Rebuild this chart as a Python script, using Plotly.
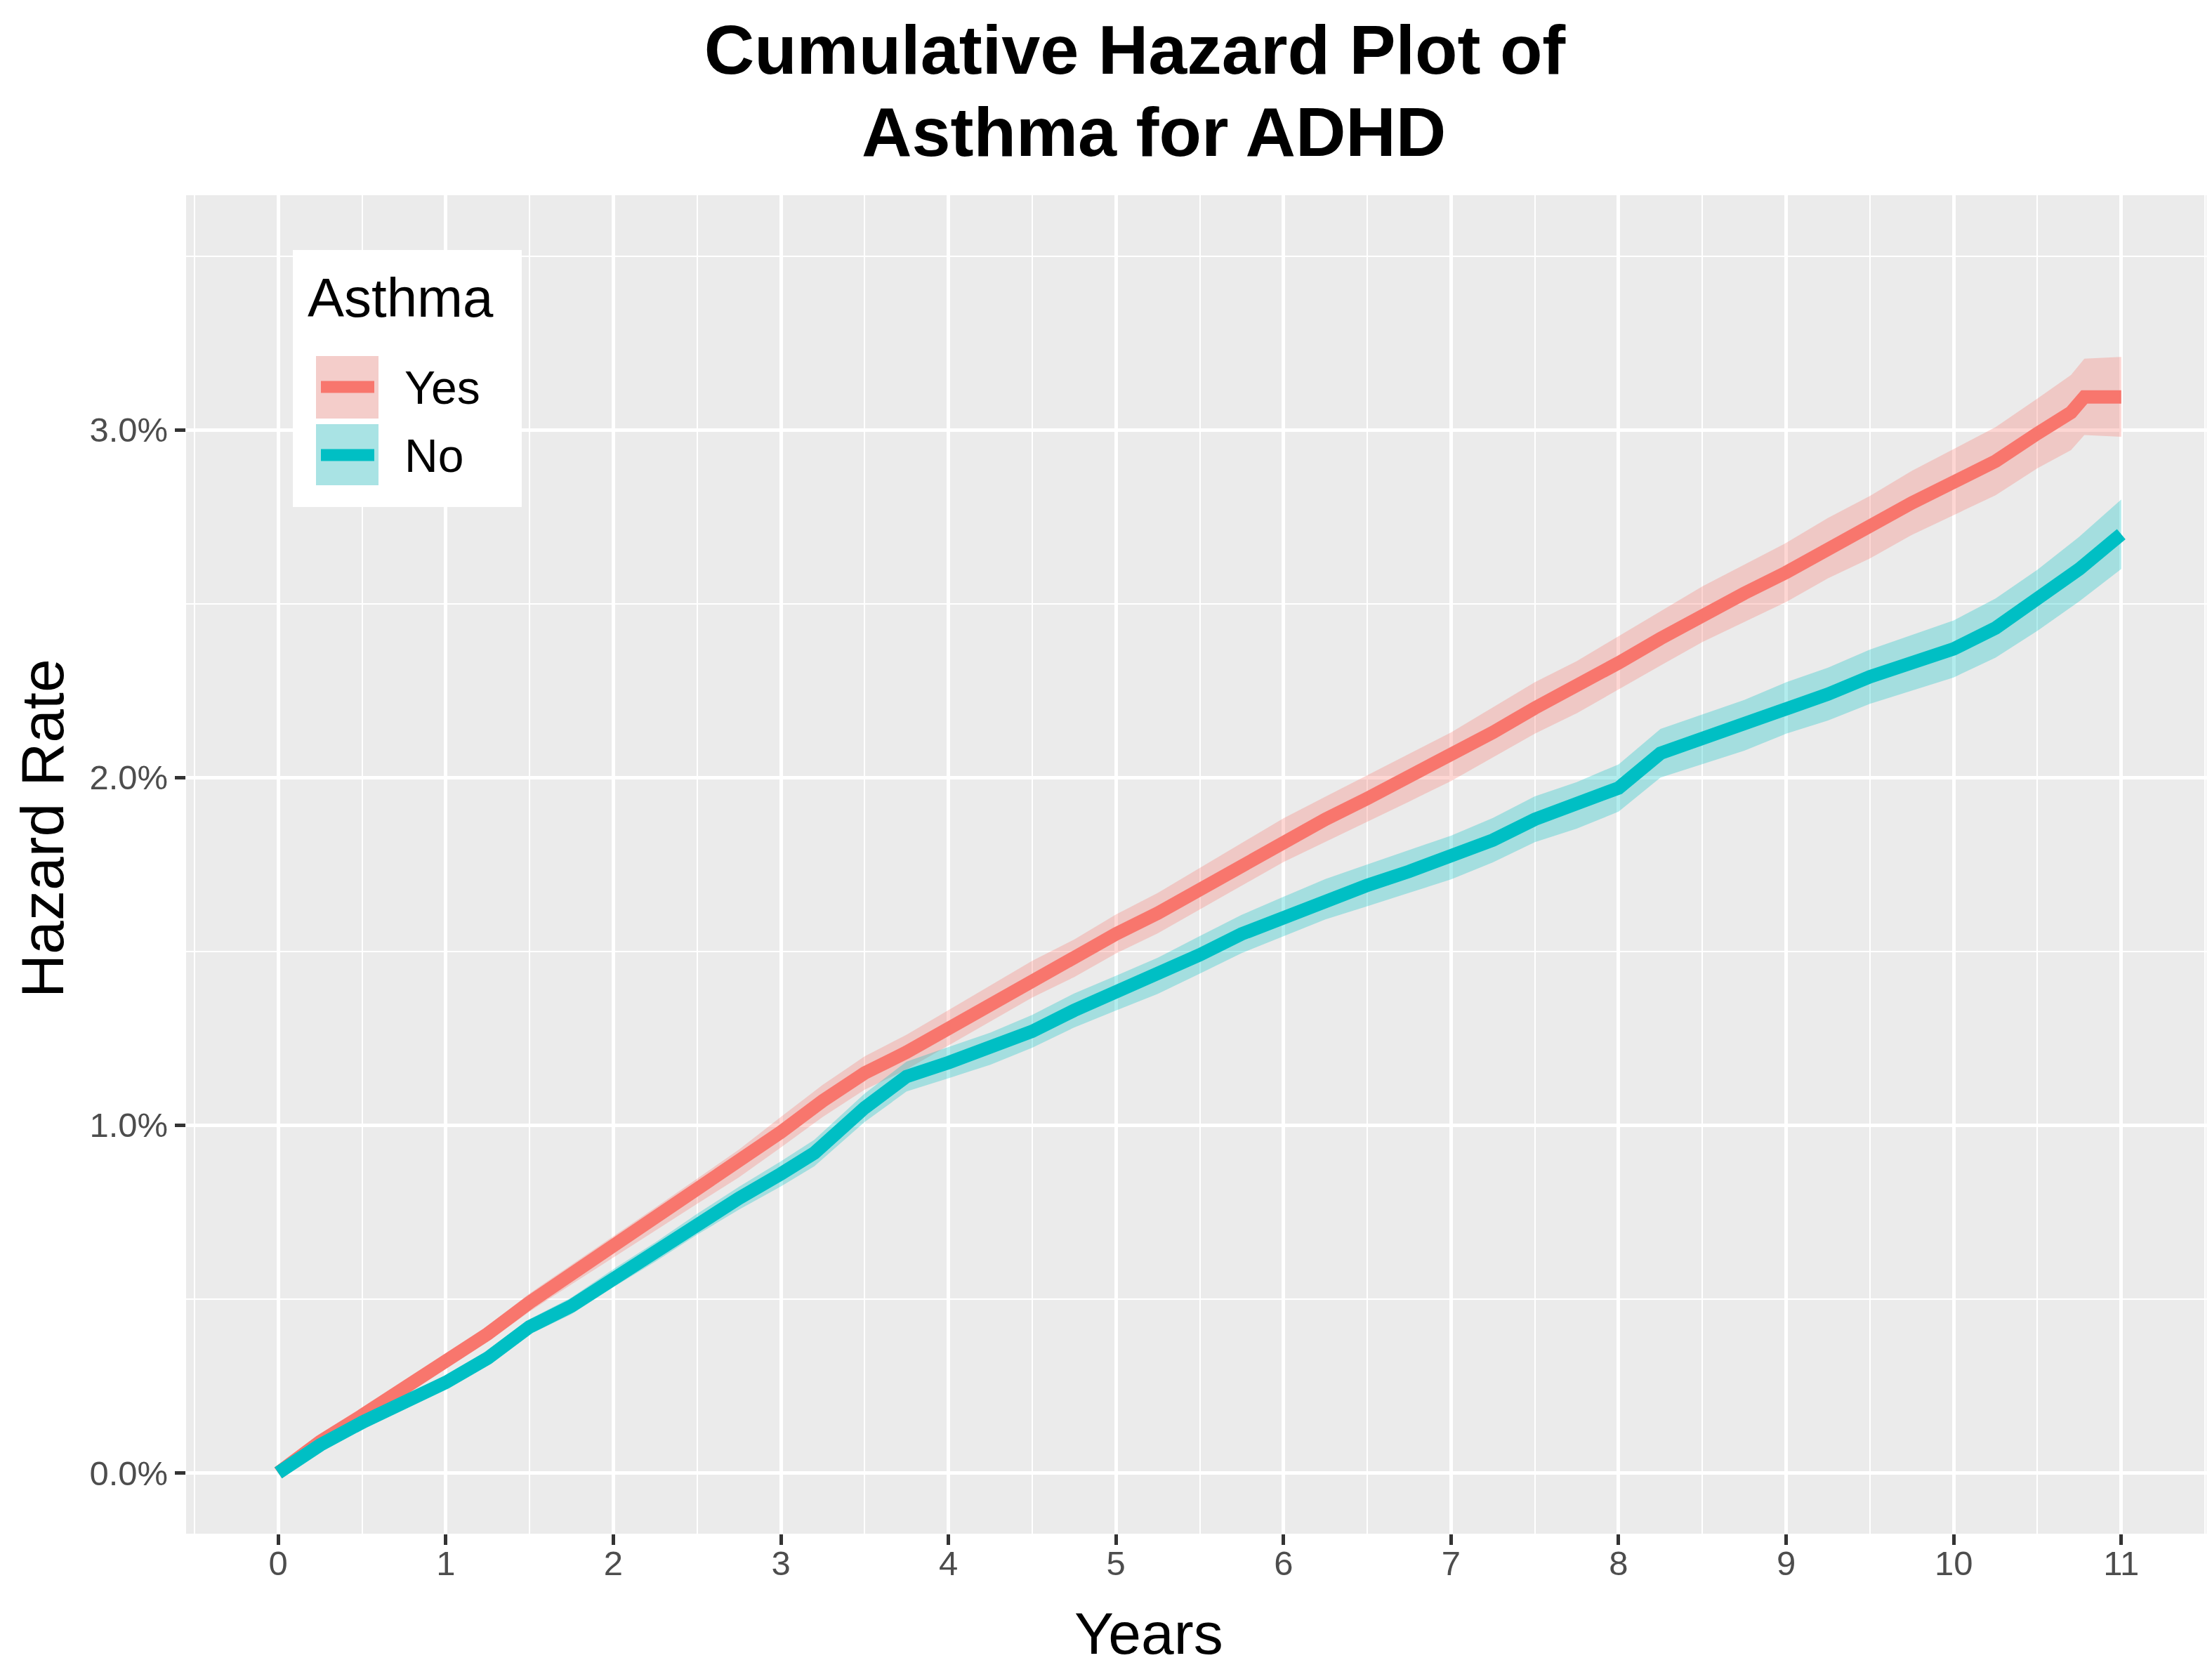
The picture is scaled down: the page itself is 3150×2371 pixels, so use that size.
import plotly.graph_objects as go

# ---------------- data (cumulative hazard, %) ----------------
groups = ["Yes", "No"]
legend_title = "Asthma"

years_yes = [0, 0.25, 0.5, 0.75, 1, 1.25, 1.5, 1.75, 2, 2.25, 2.5, 2.75, 3, 3.25, 3.5, 3.75,
             4, 4.25, 4.5, 4.75, 5, 5.25, 5.5, 5.75, 6, 6.25, 6.5, 6.75, 7, 7.25, 7.5, 7.75,
             8, 8.25, 8.5, 8.75, 9, 9.25, 9.5, 9.75, 10, 10.25, 10.5, 10.6, 10.7, 10.78, 11]
haz_yes = [0, 0.09, 0.165, 0.24, 0.32, 0.40, 0.49, 0.57, 0.65, 0.73, 0.81, 0.89, 0.98, 1.07, 1.15, 1.21,
           1.28, 1.35, 1.42, 1.48, 1.55, 1.61, 1.68, 1.75, 1.82, 1.88, 1.94, 2.00, 2.06, 2.13, 2.20, 2.26,
           2.33, 2.40, 2.47, 2.53, 2.59, 2.66, 2.72, 2.79, 2.85, 2.91, 2.99, 3.02, 3.05, 3.095, 3.095]
lo_yes = [0, 0.082, 0.153, 0.224, 0.30, 0.377, 0.464, 0.542, 0.62, 0.697, 0.774, 0.85, 0.936, 1.024, 1.102, 1.16,
          1.229, 1.298, 1.367, 1.426, 1.494, 1.552, 1.62, 1.689, 1.757, 1.815, 1.873, 1.931, 1.99, 2.058, 2.126, 2.185,
          2.254, 2.322, 2.39, 2.448, 2.505, 2.573, 2.63, 2.698, 2.755, 2.812, 2.89, 2.916, 2.942, 2.985, 2.98]
hi_yes = [0, 0.098, 0.177, 0.256, 0.34, 0.423, 0.516, 0.598, 0.68, 0.763, 0.846, 0.93, 1.024, 1.116, 1.198, 1.26,
          1.331, 1.402, 1.473, 1.534, 1.606, 1.668, 1.74, 1.811, 1.883, 1.945, 2.007, 2.069, 2.13, 2.202, 2.274, 2.335,
          2.406, 2.478, 2.55, 2.612, 2.675, 2.747, 2.81, 2.882, 2.945, 3.008, 3.09, 3.124, 3.158, 3.205, 3.21]

years_no = [0, 0.25, 0.5, 0.75, 1, 1.25, 1.5, 1.75, 2, 2.25, 2.5, 2.75, 3, 3.2, 3.5, 3.75,
            4, 4.25, 4.5, 4.75, 5, 5.25, 5.5, 5.75, 6, 6.25, 6.5, 6.75, 7, 7.25, 7.5, 7.75,
            8, 8.25, 8.5, 8.75, 9, 9.25, 9.5, 9.75, 10, 10.25, 10.5, 10.75, 10.9, 11]
haz_no = [0, 0.08, 0.145, 0.20, 0.26, 0.33, 0.42, 0.48, 0.56, 0.635, 0.715, 0.79, 0.86, 0.92, 1.05, 1.14,
          1.18, 1.22, 1.27, 1.33, 1.38, 1.43, 1.49, 1.55, 1.60, 1.65, 1.69, 1.73, 1.77, 1.82, 1.88, 1.92,
          1.97, 2.07, 2.11, 2.15, 2.20, 2.24, 2.29, 2.33, 2.37, 2.43, 2.51, 2.60, 2.66, 2.70]
lo_no = [0, 0.073, 0.135, 0.187, 0.244, 0.311, 0.398, 0.456, 0.534, 0.607, 0.685, 0.757, 0.824, 0.882, 1.009, 1.097,
         1.135, 1.174, 1.223, 1.281, 1.33, 1.378, 1.436, 1.495, 1.543, 1.592, 1.63, 1.668, 1.707, 1.756, 1.814, 1.853,
         1.902, 2.00, 2.039, 2.077, 2.126, 2.164, 2.212, 2.25, 2.288, 2.345, 2.422, 2.507, 2.563, 2.60]
hi_no = [0, 0.087, 0.155, 0.213, 0.276, 0.349, 0.442, 0.504, 0.586, 0.663, 0.745, 0.823, 0.896, 0.958, 1.091, 1.183,
         1.225, 1.266, 1.317, 1.379, 1.43, 1.482, 1.544, 1.605, 1.657, 1.708, 1.75, 1.792, 1.833, 1.884, 1.946, 1.987,
         2.038, 2.14, 2.181, 2.223, 2.274, 2.316, 2.368, 2.41, 2.452, 2.515, 2.598, 2.693, 2.757, 2.80]

x_ticks = list(range(0, 12))
x_minor = [-0.5 + i for i in range(13)]
y_ticks = [0, 1, 2, 3]
y_tick_labels = ["0.0%", "1.0%", "2.0%", "3.0%"]
y_minor = [0.5, 1.5, 2.5, 3.5]

# ---------------- style ----------------
W, H = 3150, 2371
L, R, T, B = 257, 6, 270, 195
PW, PH = W - L - R, H - T - B
FONT = "Liberation Sans, Arial, sans-serif"
line_colors = {"Yes": "#F8766D", "No": "#00BFC4"}
fill_colors = {"Yes": "rgba(248,118,109,0.3)", "No": "rgba(0,191,196,0.3)"}
LW = 19


def px(xp):
    return (xp - L) / PW


def py(yp):
    return (H - B - yp) / PH


series = {
    "Yes": (years_yes, haz_yes, lo_yes, hi_yes),
    "No": (years_no, haz_no, lo_no, hi_no),
}

fig = go.Figure()
for g in groups:
    xs, _, lo, hi = series[g]
    fig.add_trace(go.Scatter(
        x=list(xs) + list(xs)[::-1], y=list(hi) + list(lo)[::-1],
        fill="toself", fillcolor=fill_colors[g], line=dict(width=0),
        mode="lines", hoverinfo="skip", showlegend=False))
for g in groups:
    xs, ys, _, _ = series[g]
    fig.add_trace(go.Scatter(
        x=xs, y=ys, mode="lines", name=g,
        line=dict(color=line_colors[g], width=LW), showlegend=False))

shapes = []
annotations = []
# manual ggplot-style legend
dy = -5
shapes.append(dict(type="rect", xref="paper", yref="paper", x0=px(409), x1=px(735), y0=py(719 + dy), y1=py(353 + dy),
                   fillcolor="white", line=dict(width=0), layer="above"))
key_rows = {"Yes": (504, 593, 548), "No": (601, 688, 645)}
for g in groups:
    top, bot, mid = key_rows[g]
    top, bot, mid = top + dy, bot + dy, mid + dy
    shapes.append(dict(type="rect", xref="paper", yref="paper", x0=px(442), x1=px(531), y0=py(bot), y1=py(top),
                       fillcolor="#F2F2F2", line=dict(width=0), layer="above"))
    shapes.append(dict(type="rect", xref="paper", yref="paper", x0=px(442), x1=px(531), y0=py(bot), y1=py(top),
                       fillcolor=fill_colors[g], line=dict(width=0), layer="above"))
    shapes.append(dict(type="line", xref="paper", yref="paper", x0=px(449), x1=px(525), y0=py(mid), y1=py(mid),
                       line=dict(color=line_colors[g], width=17), layer="above"))
    annotations.append(dict(text=g, xref="paper", yref="paper", x=px(566), y=py(mid + 1),
                            xanchor="left", yanchor="middle", showarrow=False,
                            font=dict(family=FONT, size=66, color="black")))
annotations.append(dict(text=legend_title, xref="paper", yref="paper", x=px(428), y=py(421 + dy),
                        xanchor="left", yanchor="middle", showarrow=False,
                        font=dict(family=FONT, size=78, color="black")))

# second title line and axis titles
annotations.append(dict(text="<b>Asthma for ADHD</b>", xref="paper", yref="paper", x=px(1635), y=py(180),
                        xanchor="center", yanchor="middle", showarrow=False,
                        font=dict(family=FONT, size=99, color="black")))
annotations.append(dict(text="Years", xref="paper", yref="paper", x=px(1628), y=py(2318),
                        xanchor="center", yanchor="middle", showarrow=False,
                        font=dict(family=FONT, size=84, color="black")))
annotations.append(dict(text="Hazard Rate", xref="paper", yref="paper", x=px(2), y=py(1172),
                        xanchor="left", yanchor="middle", showarrow=False, textangle=-90,
                        font=dict(family=FONT, size=86, color="black")))

fig.update_layout(
    width=W, height=H, autosize=False,
    margin=dict(l=L, r=R, t=T, b=B, pad=0),
    paper_bgcolor="white", plot_bgcolor="#EBEBEB",
    showlegend=False, shapes=shapes, annotations=annotations,
    font=dict(family=FONT),
    title=dict(text="<b>Cumulative Hazard Plot of</b>", xref="paper", x=px(1608), xanchor="center",
               yref="container", y=1.0, yanchor="top", pad=dict(t=28, b=0, l=0, r=0),
               font=dict(family=FONT, size=99, color="black")),
    xaxis=dict(range=[-0.55, 11.55], tickmode="array", tickvals=x_ticks, ticktext=[str(v) for v in x_ticks],
               showgrid=True, gridcolor="white", gridwidth=4.5, zeroline=False, showline=False,
               ticks="outside", ticklen=15, tickwidth=4.5, tickcolor="#333333", ticklabelstandoff=-16,
               tickfont=dict(family=FONT, size=49, color="#4D4D4D"),
               minor=dict(tickmode="array", tickvals=x_minor, showgrid=True, gridcolor="white", gridwidth=2.3, ticks="")),
    yaxis=dict(range=[-0.175, 3.675], tickmode="array", tickvals=y_ticks, ticktext=y_tick_labels,
               showgrid=True, gridcolor="white", gridwidth=4.5, zeroline=False, showline=False,
               ticks="outside", ticklen=15, tickwidth=4.5, tickcolor="#333333",
               tickfont=dict(family=FONT, size=49, color="#4D4D4D"),
               minor=dict(tickmode="array", tickvals=y_minor, showgrid=True, gridcolor="white", gridwidth=2.3, ticks="")),
)

fig.write_html("out.html")
